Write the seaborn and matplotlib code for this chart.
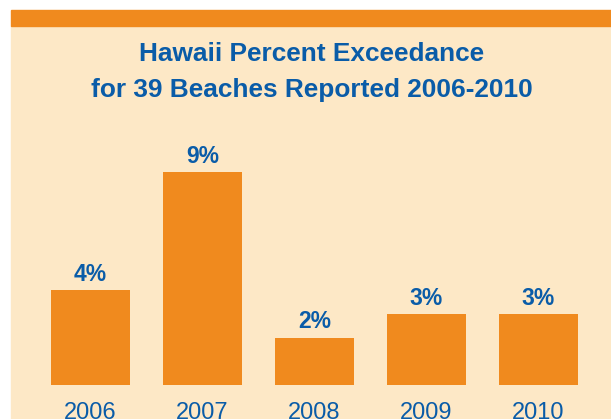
import matplotlib
matplotlib.use("Agg")
import matplotlib.pyplot as plt
import seaborn as sns
import pandas as pd
from matplotlib.patches import Rectangle

# data
years = ["2006", "2007", "2008", "2009", "2010"]
exceedance = [4, 9, 2, 3, 3]
value_labels = ["4%", "9%", "2%", "3%", "3%"]

orange = "#F08A1E"
cream = "#FDE8C6"
blue = "#0A5CA8"

sns.set_theme(style="white")
plt.rcParams["font.family"] = ["Liberation Sans", "DejaVu Sans"]

W, H = 611, 419
fig = plt.figure(figsize=(W / 100, H / 100), dpi=100, facecolor="white")

# background panel and top band (pixel coords -> figure coords)
fig.patches.append(Rectangle((11 / W, 0), 1 - 11 / W, (H - 26) / H,
                             transform=fig.transFigure, color=cream, zorder=-2))
fig.patches.append(Rectangle((11 / W, (H - 26) / H), 1 - 11 / W, 16 / H,
                             transform=fig.transFigure, color=orange, zorder=-2))

fig.text(312 / W, 1 - 54 / H, "Hawaii Percent Exceedance", ha="center", va="center",
         fontsize=18.9, fontweight="bold", color=blue)
fig.text(312 / W, 1 - 90 / H, "for 39 Beaches Reported 2006-2010", ha="center", va="center",
         fontsize=18.9, fontweight="bold", color=blue)

ax = fig.add_axes([34.5 / W, 34 / H, 560 / W, 237 / H])
ax.set_facecolor("none")
df = pd.DataFrame({"year": years, "pct": exceedance})
sns.barplot(data=df, x="year", y="pct", color=orange, saturation=1, width=0.705,
            linewidth=0, ax=ax)
ax.set_xlim(-0.5, 4.5)
ax.set_ylim(0, 10)
ax.bar_label(ax.containers[0], labels=value_labels, padding=3,
             fontsize=16.5, fontweight="bold", color=blue)

ax.set_xlabel("")
ax.set_ylabel("")
ax.set_yticks([])
ax.tick_params(axis="x", length=0, pad=12, labelsize=17, labelcolor=blue)
for s in ax.spines.values():
    s.set_visible(False)

fig.savefig("out.png", dpi=100, facecolor="white")
